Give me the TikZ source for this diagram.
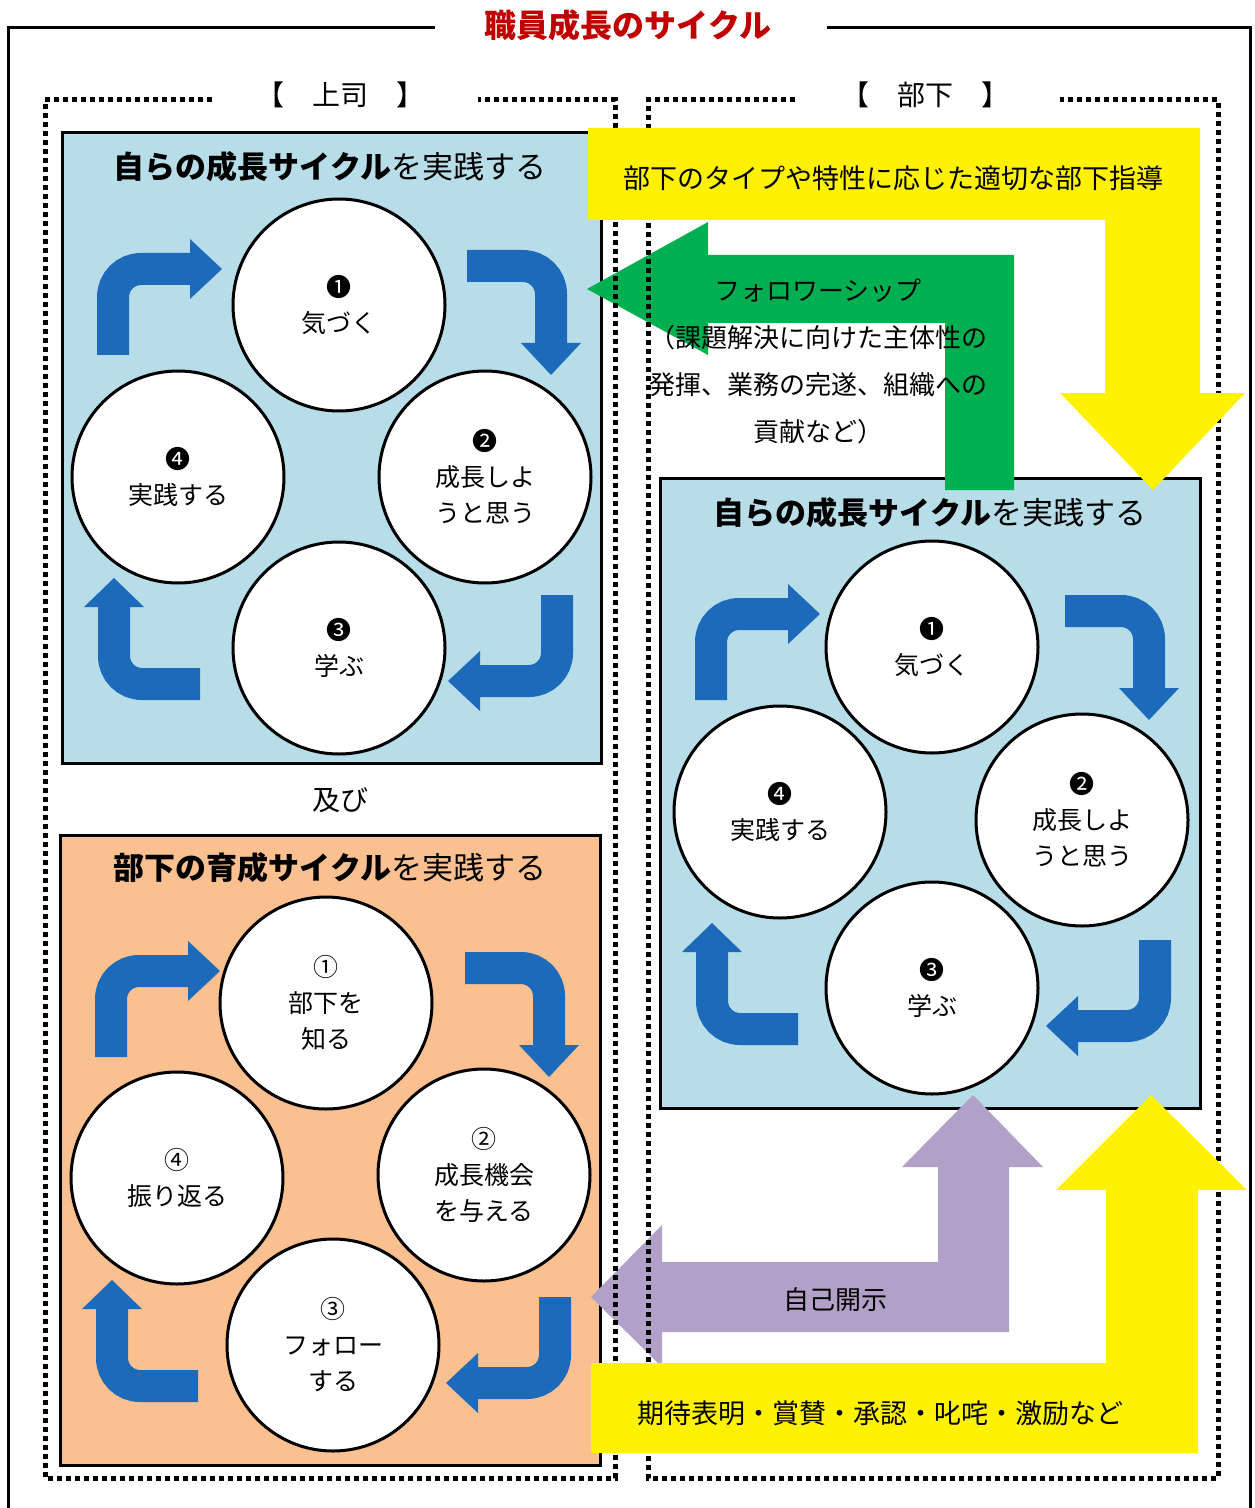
\documentclass[tikz,border=0pt]{standalone}
\usepackage{fontspec}
\setmainfont{Noto Sans CJK JP}
\usetikzlibrary{positioning}
\definecolor{boxblue}{RGB}{183,221,232}
\definecolor{boxorange}{RGB}{250,192,144}
\definecolor{arrowblue}{RGB}{30,106,186}
\definecolor{folgreen}{RGB}{0,176,80}
\definecolor{jikopurple}{RGB}{177,160,199}
\definecolor{titlered}{RGB}{192,0,0}

% four bent arrows of one cycle, in box coordinates
\newcommand{\cyclearrows}{%
\draw[cyc] (51,222) -- (51,136) -- (130,136);
\fill[arrowblue] (128,106) -- (160,136) -- (128,166) -- cycle;
\draw[cyc] (405,133) -- (489,133) -- (489,212);
\fill[arrowblue] (459,210) -- (489,242) -- (519,210) -- cycle;
\draw[cyc] (495,462) -- (495,548) -- (416,548);
\fill[arrowblue] (418,518) -- (386,548) -- (418,578) -- cycle;
\draw[cyc] (138,551) -- (52,551) -- (52,472);
\fill[arrowblue] (22,474) -- (52,445) -- (82,474) -- cycle;
}

\begin{document}
\begin{tikzpicture}[x=0.5pt,y=-0.5pt,
  stage/.style={circle,draw,line width=1.5pt,fill=white,minimum size=106pt,inner sep=0pt,align=center,font=\fontsize{12.5pt}{18pt}\selectfont},
  box/.style={draw,line width=1.5pt},
  cyc/.style={arrowblue,line width=16pt,rounded corners=14pt},
  dotframe/.style={line width=2.5pt,dash pattern=on 2.5pt off 2pt},
  boxtitle/.style={font=\fontsize{15.5pt}{18pt}\selectfont},
  label/.style={font=\fontsize{13.5pt}{23.5pt}\selectfont,align=center}]
\useasboundingbox (0,0) rectangle (1254,1508);

%Frame
\node[font=\fontsize{16pt}{18pt}\selectfont\bfseries,text=titlered] (title) at (628,25) {職員成長のサイクル};
\draw[line width=1.5pt] (435,28) -- (8,28) -- (8,1508);
\draw[line width=1.5pt] (827,28) -- (1250,28) -- (1250,1508);

% Jyoshi (left)
\node[font=\fontsize{14pt}{16pt}\selectfont] (jyoshi) at (340,95) {【　上司　】};
\node[font=\fontsize{14pt}{16pt}\selectfont] (buka) at (925,95) {【　部下　】};

\begin{scope}[shift={(62,133)}]
\draw[box,fill=boxblue] (0,0) rectangle (539,630);
\node[boxtitle] (jatitle) at (268,34) {{\bfseries 自らの成長サイクル}を実践する};
\node[stage] (ja1) at (277,172) {❶\\気づく};
\node[stage] (ja2) at (423,344) {❷\\成長しよ\\うと思う};
\node[stage] (ja3) at (277,515) {❸\\学ぶ};
\node[stage] (ja4) at (116,344) {❹\\実践する};
\cyclearrows
\end{scope}

\node[font=\fontsize{14pt}{16pt}\selectfont] (oyobi) at (340,800) {及び};

\begin{scope}[shift={(60,835)}]
\draw[box,fill=boxorange] (0,0) rectangle (540,630);
\node[boxtitle] (iktitle) at (270,33) {{\bfseries 部下の育成サイクル}を実践する};
\node[stage] (ik1) at (266,168) {①\\部下を\\知る};
\node[stage] (ik2) at (424,340) {②\\成長機会\\を与える};
\node[stage] (ik3) at (273,510) {③\\フォロー\\する};
\node[stage] (ik4) at (117,343) {④\\振り返る};
\cyclearrows
\end{scope}

% Buka (right)
\begin{scope}[shift={(660,478)}]
\draw[box,fill=boxblue] (0,0) rectangle (540,630);
\node[boxtitle] (jbtitle) at (270,35) {{\bfseries 自らの成長サイクル}を実践する};
\node[stage] (jb1) at (272,169) {❶\\気づく};
\node[stage] (jb2) at (422,342) {❷\\成長しよ\\うと思う};
\node[stage] (jb3) at (272,510) {❸\\学ぶ};
\node[stage] (jb4) at (120,334) {❹\\実践する};
\cyclearrows
\end{scope}

% Block arrows
\fill[folgreen] (587,289) -- (708,222) -- (708,255) -- (1014,255) -- (1014,490) -- (945,490) -- (945,323) -- (708,323) -- (708,355) -- cycle;
\fill[jikopurple] (973,1095) -- (1043,1167) -- (1009,1167) -- (1009,1332) -- (662,1332) -- (662,1367) -- (591,1297) -- (662,1225) -- (662,1262) -- (938,1262) -- (938,1167) -- (902,1167) -- cycle;

\draw[dotframe] (212,100) -- (45,100) -- (45,1478) -- (615,1478) -- (615,100) -- (478,100);
\draw[dotframe] (795,100) -- (648,100) -- (648,1478) -- (1218,1478) -- (1218,100) -- (1060,100);

\fill[yellow] (588,128) -- (1200,128) -- (1200,393) -- (1245,393) -- (1153,490) -- (1060,393) -- (1105,393) -- (1105,220) -- (588,220) -- cycle;
\fill[yellow] (591,1363) -- (1106,1363) -- (1106,1190) -- (1056,1190) -- (1151,1095) -- (1247,1190) -- (1198,1190) -- (1198,1453) -- (591,1453) -- cycle;

\node[label] (shidou) at (893,178) {部下のタイプや特性に応じた適切な部下指導};
\node[label,font=\fontsize{13pt}{23.5pt}\selectfont] (follow) at (818,361) {フォロワーシップ\\（課題解決に向けた主体性の\\発揮、業務の完遂、組織への\\貢献など）};
\node[label,font=\fontsize{13pt}{16pt}\selectfont] (jiko) at (835,1300) {自己開示};
\node[label] (kitai) at (880,1413) {期待表明・賞賛・承認・叱咤・激励など};

\end{tikzpicture}
\end{document}
